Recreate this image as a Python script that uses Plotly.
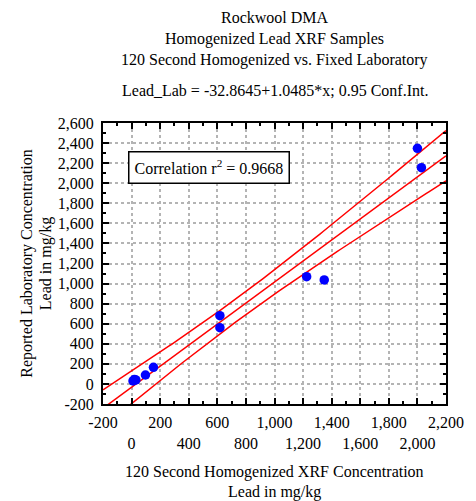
import numpy as np
import plotly.graph_objects as go

# --- data ---
XRF_PB = [10, 20, 30, 97, 153, 618, 618, 1225, 1348, 2000, 2028]
LAB_PB = [30, 45, 40, 89, 166, 680, 560, 1069, 1036, 2348, 2155]

INTERCEPT = -32.8645
SLOPE = 1.0485
T_CRIT = 2.262  # t(0.975, df=9)
R2_TEXT = "Correlation r<sup>2</sup> = 0.9668"

TITLE_LINES = [
    "Rockwool DMA",
    "Homogenized Lead XRF Samples",
    "120 Second Homogenized vs. Fixed Laboratory",
]
EQ_TEXT = "Lead_Lab = -32.8645+1.0485*x; 0.95 Conf.Int."

X_TICKS = list(range(-200, 2201, 200))
Y_TICKS = list(range(-200, 2601, 200))

FONT = "Liberation Serif"
FS = 16
RED = "#ff0000"
BLUE = "#0000ff"
GRID = "#b4b4b4"

# --- regression + confidence band ---
x = np.array(XRF_PB, float)
y = np.array(LAB_PB, float)
n = len(x)
xbar = x.mean()
sxx = ((x - xbar) ** 2).sum()
resid = y - (INTERCEPT + SLOPE * x)
s = np.sqrt((resid ** 2).sum() / (n - 2))

xg = np.linspace(-200, 2200, 121)
fit = INTERCEPT + SLOPE * xg
hw = T_CRIT * s * np.sqrt(1 / n + (xg - xbar) ** 2 / sxx)

fig = go.Figure()
for yy in (fit + hw, fit, fit - hw):
    fig.add_trace(go.Scatter(x=xg, y=yy, mode="lines",
                             line=dict(color=RED, width=1.5),
                             showlegend=False, hoverinfo="skip"))
fig.add_trace(go.Scatter(x=XRF_PB, y=LAB_PB, mode="markers",
                         marker=dict(color=BLUE, size=9.5),
                         showlegend=False))

# staggered x tick labels: every other one drops to a second row
x_text = [f"{v:,}" if i % 2 == 0 else f"<br>{v:,}" for i, v in enumerate(X_TICKS)]

axis_common = dict(
    showline=True, linecolor="black", linewidth=2, mirror="allticks",
    ticks="inside", ticklen=6, tickwidth=1.5, tickcolor="black",
    minor=dict(ticks="inside", ticklen=3, tickwidth=1.5, tickcolor="black", dtick=100),
    showgrid=True, gridcolor=GRID, gridwidth=1.5, griddash="dot",
    zeroline=False, tickangle=0,
    tickfont=dict(family=FONT, size=FS, color="black"),
)

fig.update_xaxes(range=[-200, 2200], tickmode="array", tickvals=X_TICKS,
                 ticktext=x_text, ticklabelstandoff=3, **axis_common)
fig.update_yaxes(range=[-200, 2600], tickmode="array", tickvals=Y_TICKS,
                 ticktext=[f"{v:,}" for v in Y_TICKS], ticklabelstandoff=4,
                 **axis_common)

ann = []
for txt, py in zip(TITLE_LINES, [17, 39, 60]):
    ann.append(dict(text=txt, x=0.5, y=(404 - py) / 281))
ann.append(dict(text=EQ_TEXT, x=0.5, y=(404 - 90) / 281))
ann.append(dict(text="120 Second Homogenized XRF Concentration", x=0.5, y=(404 - 472) / 281))
ann.append(dict(text="Lead in mg/kg", x=0.5, y=(404 - 492) / 281))
ann.append(dict(text="Reported Laboratory Concentration", x=(24 - 103) / 353,
                y=0.5, textangle=-90))
ann.append(dict(text="Lead in mg/kg", x=(44 - 103) / 353, y=0.5, textangle=-90))
for a in ann:
    a.update(xref="paper", yref="paper", showarrow=False,
             xanchor="center", yanchor="middle",
             font=dict(family=FONT, size=FS, color="black"))
ann.append(dict(text=R2_TEXT, xref="paper", yref="paper",
                x=(212.5 - 103) / 353, y=(404 - 167.5) / 281,
                showarrow=False, xanchor="center", yanchor="middle",
                bgcolor="white", bordercolor="black", borderwidth=1.5,
                borderpad=5, font=dict(family=FONT, size=FS, color="black")))

fig.update_layout(
    width=476, height=501,
    margin=dict(l=103, r=20, t=123, b=97),
    paper_bgcolor="white", plot_bgcolor="white",
    annotations=ann,
    font=dict(family=FONT, size=FS, color="black"),
)

fig.write_html("out.html", config={"displayModeBar": False},
               post_script="document.body.style.margin='0';")
